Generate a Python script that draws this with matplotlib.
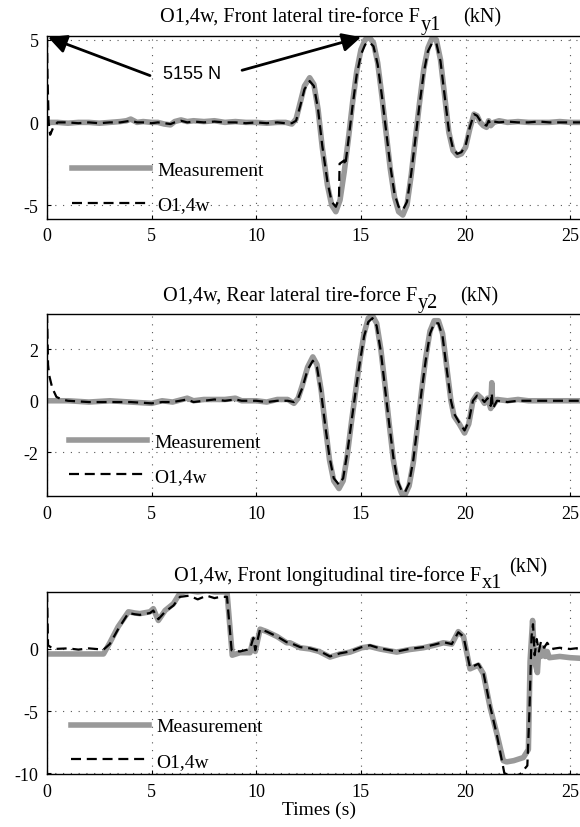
import matplotlib
matplotlib.use("Agg")
import matplotlib.pyplot as plt
import numpy as np

plt.rcParams['font.family'] = ['Liberation Serif', 'DejaVu Serif']
plt.rcParams['axes.unicode_minus'] = False
plt.rcParams['mathtext.fontset'] = 'custom'
plt.rcParams['mathtext.rm'] = 'Liberation Serif'

# ---------------- data ----------------
# Panel 1: front lateral tire-force Fy1 (kN)
t1_meas = [0, 0.5, 1, 1.5, 2, 2.5, 3, 3.5, 3.8, 4.0, 4.3, 4.6, 5.0, 5.3, 5.6, 5.9, 6.1, 6.4, 6.7, 7.0,
           7.5, 8.0, 8.5, 9.0, 9.5, 10.0, 10.5, 11.0, 11.4, 11.7,
           11.9, 12.1, 12.3, 12.55, 12.75, 12.95, 13.15, 13.4, 13.6, 13.8, 14.0, 14.2, 14.4, 14.6,
           14.8, 15.0, 15.2, 15.4, 15.6, 15.8, 16.0, 16.2, 16.4, 16.6, 16.8, 17.0, 17.2, 17.4, 17.6,
           17.8, 18.0, 18.2, 18.4, 18.6, 18.8, 19.0, 19.2, 19.4, 19.6, 19.8, 20.0, 20.2, 20.4, 20.55,
           20.7, 20.85, 21.0, 21.1, 21.2, 21.35, 21.6, 22.0, 22.5, 23.0, 23.5, 24.0, 24.5, 25.0, 25.5, 26.0]
f1_meas = [0, 0, -0.05, 0, 0, -0.05, 0, 0.05, 0.1, 0.2, 0.0, 0.05, 0.0, 0.0, -0.1, -0.15, 0.05, 0.15, 0.05, 0.1,
           0.05, 0.1, 0.0, 0.05, 0.0, 0.0, -0.05, 0.0, 0.0, -0.1,
           0.2, 1.2, 2.2, 2.7, 2.3, 0.8, -1.5, -3.8, -5.0, -5.4, -4.7, -3.0, -1.0, 1.2,
           3.1, 4.4, 5.0, 5.15, 4.8, 3.6, 1.6, -0.6, -2.8, -4.5, -5.4, -5.6, -5.0, -3.2, -1.0,
           1.2, 3.2, 4.5, 5.1, 5.0, 3.8, 1.6, -0.6, -1.7, -2.0, -1.9, -1.5, -0.4, 0.5, 0.4,
           0.0, -0.2, -0.3, 0.1, -0.2, 0.0, 0.1, 0.0, 0.05, 0.0, 0.0, 0.0, 0.05, 0.0, 0.0, 0.0]
t1_est = [0, 0.02, 0.08, 0.15, 0.3, 0.5, 1, 1.5, 2, 2.5, 3, 3.5, 4.0, 4.3, 4.6, 5.0, 5.3, 5.6, 5.9, 6.1,
          6.4, 6.7, 7.0, 7.5, 8.0, 8.5, 9.0, 9.5, 10.0, 10.5, 11.0, 11.4, 11.7,
          11.9, 12.1, 12.3, 12.55, 12.75, 12.95, 13.15, 13.4, 13.6, 13.8, 13.95, 13.98, 14.2, 14.25, 14.4, 14.6,
          14.8, 15.0, 15.2, 15.4, 15.6, 15.8, 16.0, 16.2, 16.4, 16.6, 16.8, 17.0, 17.2, 17.4, 17.6,
          17.8, 18.0, 18.2, 18.4, 18.6, 18.8, 19.0, 19.2, 19.4, 19.6, 19.8, 20.0, 20.2, 20.4, 20.55,
          20.7, 20.85, 21.0, 21.1, 21.2, 21.35, 21.6, 22.0, 22.5, 23.0, 23.5, 24.0, 24.5, 25.0, 25.5, 26.0]
f1_est = [5.15, 3.0, 0.0, -0.75, -0.3, 0.0, 0.0, -0.05, 0.0, -0.05, 0.0, 0.0, 0.1, 0.0, 0.0, -0.05, 0.0, -0.05, -0.1, 0.0,
          0.1, 0.0, 0.05, 0.0, 0.05, 0.0, 0.0, -0.05, 0.0, -0.05, 0.0, -0.05, -0.05,
          0.1, 1.0, 2.0, 2.5, 2.2, 0.8, -1.4, -3.6, -4.8, -5.1, -4.6, -2.5, -2.3, -2.6, -1.1, 1.0,
          2.9, 4.1, 4.7, 4.85, 4.6, 3.5, 1.6, -0.5, -2.6, -4.3, -5.1, -5.3, -4.8, -3.1, -1.0,
          1.1, 3.0, 4.3, 4.8, 4.8, 3.7, 1.6, -0.5, -1.6, -1.9, -1.8, -1.4, -0.3, 0.5, 0.4,
          0.1, -0.1, -0.2, 0.1, -0.1, 0.05, 0.0, 0.05, 0.0, 0.0, 0.05, 0.0, 0.0, 0.0, 0.0, 0.0]

# Panel 2: rear lateral tire-force Fy2 (kN)
t2_meas = [0, 1, 2, 3, 4, 5, 5.5, 6, 6.7, 7, 7.5, 8, 8.5, 9, 9.3, 10, 10.5, 11, 11.5, 11.8,
           12.0, 12.2, 12.45, 12.7, 12.9, 13.1, 13.3, 13.5, 13.7, 13.95, 14.15, 14.35, 14.55, 14.75,
           14.95, 15.15, 15.35, 15.55, 15.75, 15.95, 16.15, 16.35, 16.55, 16.75, 16.95, 17.1, 17.3,
           17.5, 17.7, 17.9, 18.1, 18.3, 18.5, 18.7, 18.9, 19.1, 19.3, 19.45, 19.7, 19.95, 20.15,
           20.35, 20.55, 20.75, 20.9, 21.05, 21.2, 21.25, 21.3, 21.5, 22, 22.5, 23, 24, 25, 26]
f2_meas = [0, 0, -0.05, 0, -0.05, -0.1, 0.0, -0.05, 0.1, 0, 0.05, 0.05, 0.05, 0.1, 0, 0, -0.05, 0.05, 0.05, -0.1,
           0.1, 0.6, 1.3, 1.7, 1.4, 0.4, -1.0, -2.3, -3.1, -3.4, -3.1, -2.1, -0.8, 0.4,
           1.6, 2.6, 3.2, 3.3, 3.0, 2.0, 0.6, -0.9, -2.3, -3.2, -3.6, -3.65, -3.3,
           -2.4, -1.0, 0.4, 1.7, 2.7, 3.1, 3.1, 2.6, 1.3, 0.0, -0.6, -0.9, -1.25, -0.9,
           0.0, 0.25, 0.1, -0.1, 0.1, -0.3, 0.7, -0.2, 0.05, 0.0, 0.05, 0, 0, 0, 0]
t2_est = [0, 0.05, 0.1, 0.25, 0.45, 0.7, 1, 2, 3, 4, 5, 5.5, 6, 6.7, 7, 7.5, 8, 8.5, 9, 9.3, 10, 10.5, 11, 11.5, 11.8,
          12.0, 12.2, 12.45, 12.7, 12.9, 13.1, 13.3, 13.5, 13.7, 13.95, 14.15, 14.35, 14.55, 14.75,
          14.95, 15.15, 15.35, 15.55, 15.75, 15.95, 16.15, 16.35, 16.55, 16.75, 16.95, 17.1, 17.3,
          17.5, 17.7, 17.9, 18.1, 18.3, 18.5, 18.7, 18.9, 19.1, 19.3, 19.45, 19.7, 19.95, 20.15,
          20.35, 20.55, 20.75, 20.9, 21.05, 21.2, 21.25, 21.3, 21.5, 22, 22.5, 23, 24, 25, 26]
f2_est = [3.4, 1.4, 1.0, 0.5, 0.15, 0.05, 0.0, -0.05, -0.05, -0.05, -0.1, -0.05, -0.05, 0.05, -0.05, 0.0, 0.05, 0.0, 0.05, 0.0, 0.0, -0.05, 0.0, 0.0, -0.05,
          0.1, 0.5, 1.2, 1.55, 1.3, 0.3, -1.0, -2.2, -3.0, -3.25, -3.0, -2.0, -0.8, 0.4,
          1.5, 2.5, 3.05, 3.2, 2.9, 1.9, 0.5, -0.9, -2.2, -3.1, -3.5, -3.55, -3.2,
          -2.3, -1.0, 0.4, 1.6, 2.6, 3.0, 3.0, 2.5, 1.2, 0.0, -0.5, -0.85, -1.15, -0.8,
          0.0, 0.2, 0.1, -0.05, 0.1, -0.2, 0.3, -0.3, 0.0, -0.05, 0.0, 0.0, 0.0, 0.0, 0.0]

# Panel 3: front longitudinal tire-force Fx1 (kN)
t3_meas = [0, 1, 2, 2.7, 3.0, 3.4, 3.89, 4.2, 4.44, 4.92, 5.08, 5.32, 5.64, 6.04, 6.35, 6.8, 7.2, 7.63, 8.0,
           8.27, 8.6, 8.85, 9.22, 9.7, 9.86, 9.95, 10.18, 10.5, 11.0, 11.45, 11.61, 12.1, 12.57, 13.0,
           13.52, 14.0, 14.48, 15.03, 15.43, 15.9, 16.71, 17.3, 17.98, 18.5, 18.94, 19.34, 19.65, 19.9,
           20.21, 20.61, 20.85, 21.17, 21.49, 21.8, 21.96, 22.3, 22.76, 23.0, 23.08, 23.2, 23.3, 23.43,
           23.5, 23.6, 23.7, 23.8, 23.9, 24.0, 24.5, 25.0, 25.5, 26.0]
f3_meas = [-0.4, -0.4, -0.4, -0.4, 0.5, 1.8, 3.0, 2.9, 2.85, 3.0, 3.25, 2.3, 3.1, 3.65, 4.5, 4.7, 4.6, 4.7, 4.6,
           4.6, 4.6, -0.5, -0.3, -0.3, 0.8, -0.2, 1.6, 1.4, 1.0, 0.5, 0.5, 0.1, 0.0, -0.2,
           -0.65, -0.4, -0.25, 0.1, 0.2, 0.0, -0.25, -0.05, 0.1, 0.3, 0.5, 0.4, 1.4, 1.0,
           -1.6, -1.3, -2.0, -4.7, -6.8, -9.0, -9.1, -9.0, -8.75, -8.1, -1.0, 2.3, -1.0, -1.9,
           0.0, -0.6, 0.1, -0.6, -0.2, -0.7, -0.6, -0.7, -0.75, -0.75]
t3_est = [0, 0.05, 0.3, 1.0, 1.5, 2.0, 2.7, 3.0, 3.4, 3.89, 4.2, 4.44, 4.92, 5.08, 5.32, 5.64, 6.04, 6.35, 6.8,
          7.2, 7.63, 8.0, 8.27, 8.6, 8.82, 9.22, 9.7, 9.86, 9.95, 10.18, 10.5, 11.0, 11.45, 11.61, 12.1,
          12.57, 13.0, 13.52, 14.0, 14.48, 15.03, 15.43, 15.9, 16.71, 17.3, 17.98, 18.5, 18.94, 19.34,
          19.65, 19.9, 20.21, 20.61, 20.85, 21.17, 21.49, 21.85, 22.2, 22.6, 22.95, 23.05, 23.15, 23.22,
          23.3, 23.4, 23.5, 23.6, 23.75, 23.9, 24.1, 24.5, 25.0, 25.5, 26.0]
f3_est = [4.6, 0.3, 0.0, 0.05, -0.05, 0.05, -0.05, 0.4, 1.6, 2.9, 2.8, 2.75, 2.9, 3.1, 2.4, 3.0, 3.5, 4.2, 4.3,
          4.0, 4.3, 4.1, 4.2, 4.2, -0.1, -0.2, 0.0, 0.9, -0.1, 1.6, 1.4, 1.0, 0.55, 0.5, 0.15,
          0.05, -0.15, -0.6, -0.35, -0.2, 0.15, 0.3, 0.05, -0.2, 0.0, 0.15, 0.35, 0.55, 0.4,
          1.35, 1.0, -1.5, -1.2, -1.9, -4.6, -6.9, -10.0, -10.3, -10.1, -9.4, -5.0, 1.0, 2.0,
          -0.5, 0.8, -0.2, 0.6, 0.1, 0.5, 0.0, 0.1, 0.0, 0.1, 0.05]

x_ticks = [0, 5, 10, 15, 20, 25]
y_ticks = [[-5, 0, 5], [-2, 0, 2], [-10, -5, 0]]
y_limits = [(-5.84, 5.24), (-3.70, 3.36), (-10.1, 4.57)]
legend_labels = ['Measurement', 'O1,4w']
titles = [("O1,4w, Front lateral tire-force F", "y1", "(kN)"),
          ("O1,4w, Rear lateral tire-force F", "y2", "(kN)"),
          ("O1,4w, Front longitudinal tire-force F", "x1", "(kN)")]

# ---------------- figure ----------------
W, H = 580, 828
fig = plt.figure(figsize=(W / 100, H / 100), dpi=100)
fig.patch.set_facecolor('white')

px_per_s = 20.93
left_px = 47
ax_w = 26 * px_per_s
boxes = [(36.7, 220.0), (315.0, 497.3), (593.3, 775.3)]
series = [(t1_meas, f1_meas, t1_est, f1_est),
          (t2_meas, f2_meas, t2_est, f2_est),
          (t3_meas, f3_meas, t3_est, f3_est)]
legend_anchor_y = [0.172, 0.205, 0.168]
legend_anchor_x = [0.046, 0.04, 0.044]
title_pos = [(160, 22.7, 0), (163, 301.5, 0), (174, 581.0, 1)]

axes = []
for i, ((top, bot), (tm, fm, te, fe)) in enumerate(zip(boxes, series)):
    ax = fig.add_axes([left_px / W, 1 - bot / H, ax_w / W, (bot - top) / H])
    axes.append(ax)
    ax.plot(tm, fm, color='#999999', lw=4.0, solid_joinstyle='round', label=legend_labels[0], zorder=2)
    ax.plot(te, fe, color='black', lw=1.6, dashes=(4.5, 2.6), label=legend_labels[1], zorder=3)
    ax.set_xlim(0, 26)
    ax.set_ylim(*y_limits[i])
    ax.set_xticks(x_ticks)
    ax.set_yticks(y_ticks[i])
    ax.tick_params(direction='in', length=3, labelsize=13, pad=6, width=0.8)
    ax.grid(True, color='#555555', linestyle=(0, (1, 6)), lw=0.8)
    for s in ax.spines.values():
        s.set_linewidth(1.0)
    ax.legend(loc='center left', bbox_to_anchor=(legend_anchor_x[i], legend_anchor_y[i]), frameon=False,
              fontsize=14, handlelength=4.0, handletextpad=0.4, labelspacing=0.85,
              borderpad=0, borderaxespad=0)

    main, sub, unit = titles[i]
    tx, ty, raised = title_pos[i]
    t_main = fig.text(tx / W, 1 - ty / H, main, fontsize=14.6, va='baseline', ha='left')
    t_sub = ax.annotate(sub, xy=(1, 0), xycoords=t_main, xytext=(0.5, -5),
                        textcoords='offset points', fontsize=14.6, va='bottom', ha='left',
                        annotation_clip=False)
    if raised:
        ax.annotate(unit, xy=(1, 0), xycoords=t_sub, xytext=(5, 11),
                    textcoords='offset points', fontsize=14.6, va='bottom', ha='left',
                    annotation_clip=False)
    else:
        ax.annotate(unit, xy=(1, 0), xycoords=t_sub, xytext=(16, 5),
                    textcoords='offset points', fontsize=14.6, va='bottom', ha='left',
                    annotation_clip=False)

axes[2].set_xlabel('Times (s)', fontsize=14, labelpad=1)

# annotation "5155 N" with two arrows
ax1 = axes[0]
ax1.text(6.93, 2.95, '5155 N', fontsize=13, family=['Liberation Sans', 'DejaVu Sans'],
         ha='center', va='center', zorder=5)
arrow = dict(arrowstyle='-|>', lw=2.0, color='black', mutation_scale=28, shrinkA=0, shrinkB=0)
ax1.annotate('', xy=(0.05, 5.15), xytext=(4.92, 2.83), arrowprops=arrow, annotation_clip=False)
ax1.annotate('', xy=(15.0, 5.15), xytext=(9.32, 3.15), arrowprops=arrow, annotation_clip=False)

fig.savefig('out.png', dpi=100, facecolor='white')
